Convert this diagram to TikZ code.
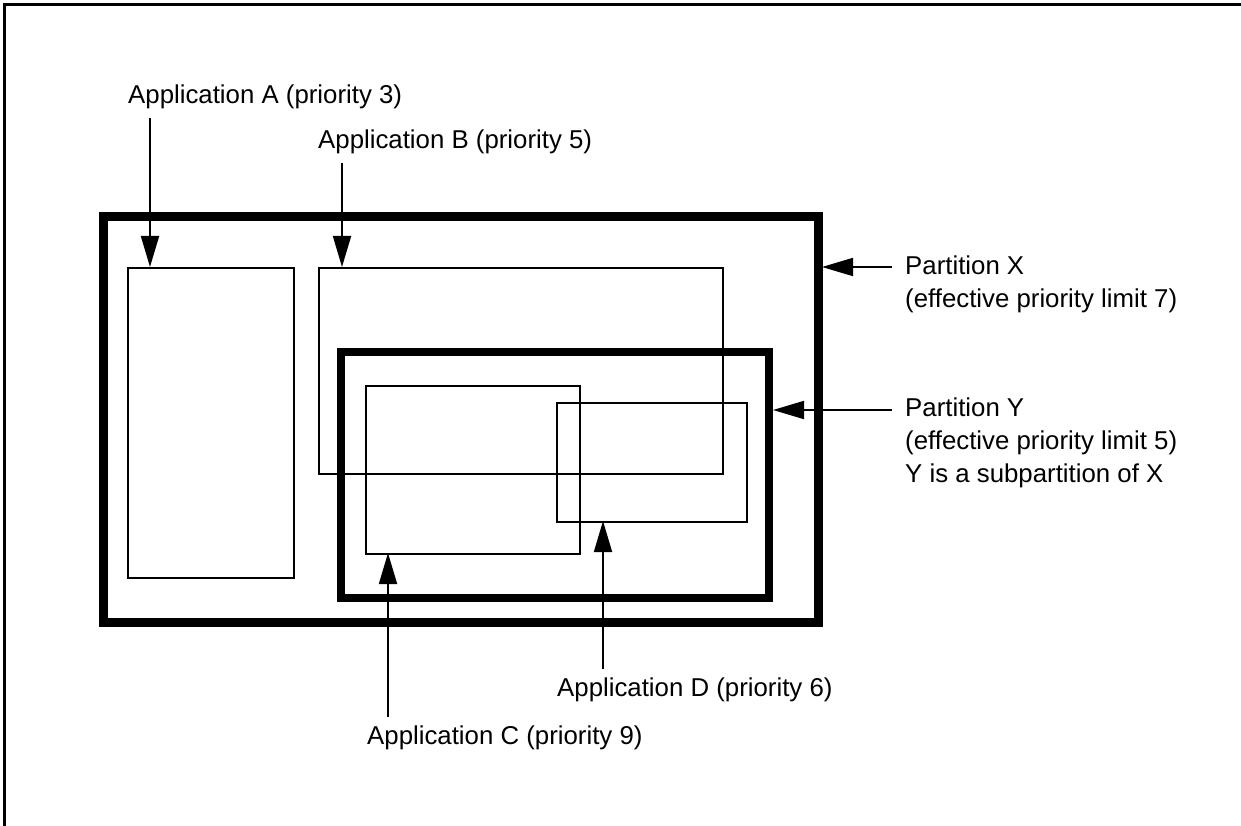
\documentclass[tikz,border=0pt]{standalone}
\usepackage{fontspec}
\setmainfont{Liberation Sans}
\usetikzlibrary{arrows.meta}
\begin{document}
\begin{tikzpicture}[x=1pt,y=-1pt,
  lbl/.style={inner sep=0pt,anchor=west,font=\fontsize{25.8}{33}\selectfont,align=left},
  part/.style={draw,line width=9pt},
  partY/.style={draw,line width=8pt},
  app/.style={draw,line width=2pt},
  conn/.style={line width=1.8pt,-{Triangle[length=31pt,width=18pt]}}]
\useasboundingbox (0,0) rectangle (1241,826);
% frame (top and left)
\draw[line width=3pt] (4,826) -- (4,5) -- (1241,5);
% partitions
\draw[part] (103,217) rectangle (818,622);
\draw[partY] (341,352) rectangle (769,598);
% application boxes
\node[app,minimum width=166pt,minimum height=310pt,anchor=north west] (A) at (127,267) {};
\node[app,minimum width=404pt,minimum height=206pt,anchor=north west] (B) at (318,267) {};
\node[app,minimum width=214pt,minimum height=168pt,anchor=north west] (C) at (365,385) {};
\node[app,minimum width=190pt,minimum height=119pt,anchor=north west] (D) at (556,402) {};
\coordinate (Xr) at (822,267);
\coordinate (Yr) at (773,410);
% labels
\node[lbl] (la) at (128,97) {Application A (priority 3)};
\node[lbl] (lb) at (318,142) {Application B (priority 5)};
\node[lbl] (lx) at (905,284) {Partition X\\(effective priority limit 7)};
\node[lbl] (ly) at (905,443) {Partition Y\\(effective priority limit 5)\\Y is a subpartition of X};
\node[lbl] (ld) at (557,690) {Application D (priority 6)};
\node[lbl] (lc) at (367,738) {Application C (priority 9)};
% connectors
\draw[conn] (150,118) -- (150,267);
\draw[conn] (342,163) -- (342,267);
\draw[conn] (892,267) -- (Xr);
\draw[conn] (892,410) -- (Yr);
\draw[conn] (388,717) -- (388,553);
\draw[conn] (603,669) -- (603,521);
\end{tikzpicture}
\end{document}
